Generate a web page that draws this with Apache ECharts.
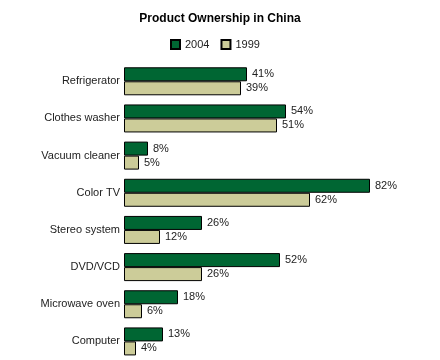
<!DOCTYPE html>
<html>
<head>
<meta charset="utf-8">
<script src="https://cdn.jsdelivr.net/npm/echarts@6/dist/echarts.min.js"></script>
<style>html,body{margin:0;padding:0;background:#fff}#c{width:440px;height:360px}</style>
</head>
<body>
<div id="c"></div>
<script>
const categories = ["Refrigerator","Clothes washer","Vacuum cleaner","Color TV","Stereo system","DVD/VCD","Microwave oven","Computer"];
const values2004 = [41,54,8,82,26,52,18,13];
const values1999 = [39,51,5,62,12,26,6,4];
const seriesNames = ["2004","1999"];

const chart = echarts.init(document.getElementById('c'), null, {renderer:'canvas'});
const font = '"Liberation Sans", Arial, sans-serif';
const lbl = {show:true, position:'right', distance:5, formatter:'{c}%', color:'#222', fontSize:11, fontFamily:font};
chart.setOption({
  animation:false,
  backgroundColor:'#fff',
  title:{text:'Product Ownership in China', left:'center', top:8,
    textStyle:{fontSize:12, fontWeight:'bold', color:'#000', fontFamily:font}},
  legend:{data:seriesNames, left:165, top:34, itemWidth:9, itemHeight:9, itemGap:11, icon:'rect',
    textStyle:{fontSize:11, color:'#222', fontFamily:font}},
  grid:{left:124, right:16, top:62.7, bottom:0, containLabel:false},
  xAxis:{type:'value', min:0, max:100, show:false},
  yAxis:{type:'category', data:categories, inverse:true,
    axisLine:{show:false}, axisTick:{show:false},
    axisLabel:{fontSize:11, color:'#222', margin:4, fontFamily:font}},
  series:[
    {name:seriesNames[0], type:'bar', data:values2004, barWidth:14, barGap:'0%',
      itemStyle:{color:'#006633', borderColor:'#000', borderWidth:1}, label:lbl},
    {name:seriesNames[1], type:'bar', data:values1999, barWidth:14, barGap:'0%',
      itemStyle:{color:'#CCCC99', borderColor:'#000', borderWidth:1}, label:lbl}
  ]
});
</script>
</body>
</html>
